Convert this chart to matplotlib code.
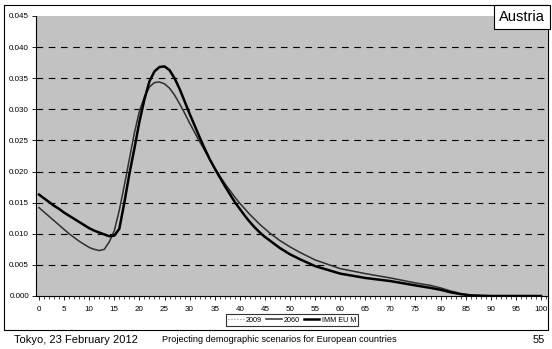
"""Austria age profile chart (scan recreation)."""

import matplotlib
matplotlib.use("Agg")
import matplotlib.pyplot as plt
from matplotlib.lines import Line2D
from matplotlib.patches import Rectangle
from matplotlib.ticker import MultipleLocator, FormatStrFormatter

plt.rcParams["font.family"] = ["Liberation Sans", "DejaVu Sans"]

ages = [0, 1, 2, 3, 4, 5, 6, 7, 8, 9, 10, 11, 12, 13, 14, 15, 16, 17, 18, 19,
        20, 21, 22, 23, 24, 25, 26, 27, 28, 29, 30, 31, 32, 33, 34, 35, 36, 37,
        38, 39, 40, 41, 42, 43, 44, 45, 46, 47, 48, 49, 50, 52, 55, 60, 65, 70,
        75, 78, 80, 82, 84, 86, 90, 95, 100]

rate_imm = [0.0163, 0.0157, 0.0151, 0.0145, 0.0140, 0.0134, 0.0129, 0.0124,
            0.0119, 0.0114, 0.0109, 0.0105, 0.0102, 0.0099, 0.0096, 0.0097,
            0.0108, 0.0150, 0.0196, 0.0237, 0.0280, 0.0316, 0.0345, 0.0361,
            0.0368, 0.0369, 0.0363, 0.0350, 0.0333, 0.0313, 0.0293, 0.0274,
            0.0255, 0.0237, 0.0220, 0.0205, 0.0191, 0.0177, 0.0164, 0.0151,
            0.0140, 0.0129, 0.0119, 0.0110, 0.0102, 0.0095, 0.0089, 0.0083,
            0.0077, 0.0072, 0.0067, 0.0059, 0.0048, 0.0036, 0.0029, 0.0024,
            0.0017, 0.0013, 0.0010, 0.0006, 0.0003, 0.0001, 0.0, 0.0, 0.0]

rate_2060 = [0.0142, 0.0135, 0.0128, 0.0121, 0.0114, 0.0107, 0.0100, 0.0094,
             0.0088, 0.0083, 0.0078, 0.0075, 0.0073, 0.0075, 0.0087, 0.0105,
             0.0138, 0.0178, 0.0220, 0.0262, 0.0297, 0.0320, 0.0336, 0.0343,
             0.0344, 0.0341, 0.0334, 0.0323, 0.0309, 0.0294, 0.0278, 0.0263,
             0.0248, 0.0234, 0.0220, 0.0206, 0.0193, 0.0181, 0.0170, 0.0159,
             0.0149, 0.0140, 0.0131, 0.0123, 0.0115, 0.0108, 0.0101, 0.0095,
             0.0089, 0.0084, 0.0079, 0.0070, 0.0058, 0.0044, 0.0036, 0.0029,
             0.0021, 0.0017, 0.0013, 0.0008, 0.0004, 0.0001, 0.0, 0.0, 0.0]

# 2009 curve is hidden under the 2060 one in the scan
rate_2009 = list(rate_2060)

series_names = ["2009", "2060", "IMM EU M"]
footer_left = "Tokyo, 23 February 2012"
footer_mid = "Projecting demographic scenarios for European countries"
page_no = "55"
country = "Austria"

W, H = 552, 349
fig = plt.figure(figsize=(W / 100, H / 100), dpi=100, facecolor="white")

# chart frame (behind the axes)
fig.patches.append(Rectangle((4 / W, 1 - 330 / H), 544 / W, 325 / H,
                             transform=fig.transFigure, facecolor="white",
                             edgecolor="black", linewidth=0.8, zorder=-5))

ax = fig.add_axes([36 / W, 1 - 296 / H, 512 / W, 280 / H])
ax.set_facecolor("#c2c2c2")

ax.plot(ages, rate_2009, color="#8a8a8a", lw=0.8, ls=":", zorder=3)
ax.plot(ages, rate_2060, color="#303030", lw=1.1, zorder=4)
ax.plot(ages, rate_imm, color="black", lw=1.8, zorder=5)

ax.set_xlim(-0.6, 101.4)
ax.set_ylim(0, 0.045)
ax.xaxis.set_major_locator(MultipleLocator(5))
ax.xaxis.set_minor_locator(MultipleLocator(1))
ax.yaxis.set_major_locator(MultipleLocator(0.005))
ax.yaxis.set_major_formatter(FormatStrFormatter("%.3f"))
ax.tick_params(axis="both", labelsize=5.8, length=3, width=0.6, pad=2)
ax.tick_params(axis="x", which="minor", length=2, width=0.5)
ax.tick_params(axis="x", pad=4)

for y in [0.005, 0.010, 0.015, 0.020, 0.025, 0.030, 0.035, 0.040]:
    ax.axhline(y, color="black", lw=0.8, ls=(0, (6, 5)), zorder=2)

for side in ["top", "right"]:
    ax.spines[side].set_visible(False)
ax.spines["left"].set_linewidth(0.8)
ax.spines["bottom"].set_linewidth(0.8)

handles = [
    Line2D([], [], color="#8a8a8a", lw=0.8, ls=":"),
    Line2D([], [], color="#303030", lw=1.1),
    Line2D([], [], color="black", lw=1.8),
]
leg = fig.legend(handles, series_names, loc="center", ncol=3,
                 bbox_to_anchor=(292 / W, 1 - 320 / H), fontsize=5.2,
                 frameon=True, fancybox=False, edgecolor="black",
                 handlelength=2.2, handletextpad=0.3, columnspacing=0.5,
                 borderpad=0.3)
leg.get_frame().set_linewidth(0.8)

fig.text(522 / W, 1 - 17 / H, country, fontsize=10.5, ha="center", va="center",
         bbox=dict(boxstyle="square,pad=0.35", facecolor="white",
                   edgecolor="black", linewidth=0.8))

fig.text(14 / W, 1 - 340 / H, footer_left, fontsize=8, ha="left", va="center")
fig.text(162 / W, 1 - 340 / H, footer_mid, fontsize=6.6, ha="left", va="center")
fig.text(545 / W, 1 - 340 / H, page_no, fontsize=8, ha="right", va="center")

fig.savefig("out.png", dpi=100, facecolor=fig.get_facecolor())
